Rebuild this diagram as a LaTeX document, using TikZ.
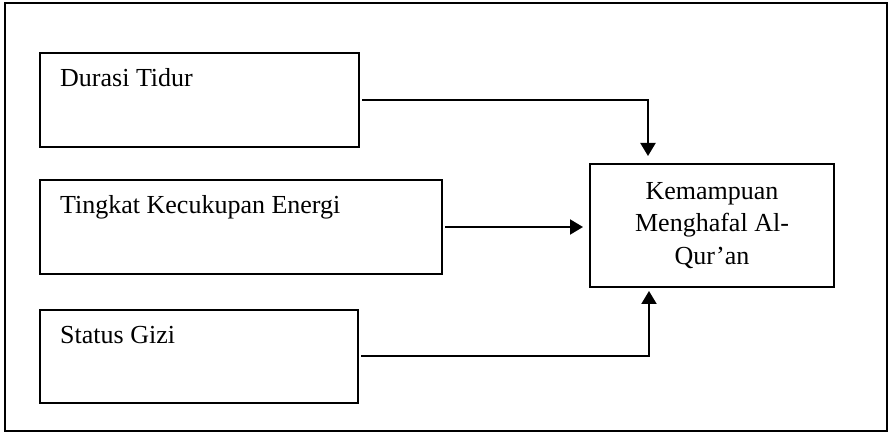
\documentclass[tikz,border=0pt]{standalone}
\usepackage{fontspec}
\setmainfont{Liberation Serif}
\usetikzlibrary{calc}
\usetikzlibrary{positioning}
\usetikzlibrary{arrows.meta}
\tikzset{
  varBox/.style={%
    draw, line width=2pt, inner sep=0pt, anchor=north west,
    minimum height=94pt,
  },
  varText/.style={%
    anchor=base west, inner sep=0pt, xshift=21pt, yshift=-35pt,
  },
  flowArrow/.style={%
    line width=2pt, -{Triangle[length=13pt,width=15pt]},
  }
}

\begin{document}
\begin{tikzpicture}[x=1pt,y=1pt,font=\fontsize{26}{32.5}\selectfont]

          \useasboundingbox (0,0) rectangle (891,433);
          \draw[line width=1.6pt] (5,2) rectangle (887,430);

          \node[varBox,minimum width=319pt,label={[varText]north west:Durasi Tidur}] (durasi) at (39,381) {} ;
          \node[varBox,minimum width=402pt,label={[varText]north west:Tingkat Kecukupan Energi}] (energi) at (39,254) {} ;
          \node[varBox,minimum width=318pt,minimum height=93pt,label={[varText]north west:Status Gizi}] (gizi) at (39,124) {} ;
          \node[varBox,minimum width=244pt,minimum height=123pt,align=center] (hafal) at (589,270) {Kemampuan\\Menghafal Al-\\Qur’an} ;

          \draw[flowArrow,shorten >=7pt,shorten <=2pt]
            (durasi.east) -| ([xshift=59pt]hafal.north west)
            ;
          \draw[flowArrow,shorten >=6pt,shorten <=2pt]
            (energi.east) -- (energi.east -| hafal.west)
            ;
          \draw[flowArrow,shorten >=3pt,shorten <=2pt]
            (gizi.east) -| ([xshift=60pt]hafal.south west)
            ;

        \end{tikzpicture}
\end{document}
